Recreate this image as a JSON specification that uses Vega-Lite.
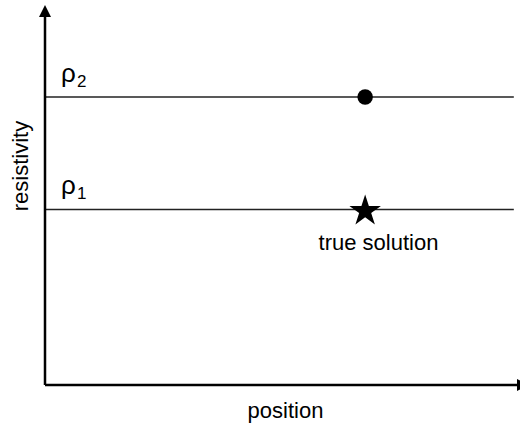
{
  "$schema": "https://vega.github.io/schema/vega-lite/v6.json",
  "width": 475,
  "height": 385,
  "autosize": {"type": "none"},
  "padding": {"left": 45, "top": 0, "right": 0, "bottom": 39},
  "background": "white",
  "config": {
    "view": {"stroke": null},
    "font": "Liberation Sans",
    "axis": {"domain": false, "ticks": false, "labels": false, "grid": false,
      "titleFont": "Liberation Sans", "titleFontSize": 22, "titleFontWeight": "normal", "titleColor": "black",
      "titleBaseline": "alphabetic", "titleAlign": "center"}
  },
  "layer": [
    {
      "data": {"values": [
        {"level": "rho2", "px": 0, "px2": 98.7, "py": 74.8},
        {"level": "rho1", "px": 0, "px2": 98.7, "py": 45.6}
      ]},
      "mark": {"type": "rule", "color": "#222222", "strokeWidth": 1.4},
      "encoding": {
        "x": {"field": "px", "type": "quantitative", "scale": {"domain": [0, 100], "nice": false, "zero": false},
          "axis": {"title": "position", "titleX": 240, "titleY": 32}},
        "x2": {"field": "px2"},
        "y": {"field": "py", "type": "quantitative", "scale": {"domain": [0, 100], "nice": false, "zero": false},
          "axis": {"title": "resistivity", "titleAngle": 270, "titleX": -18, "titleY": 165.5}}
      }
    },
    {
      "data": {"values": [
        {"axisline": "vertical", "px": 0, "py": 0, "px2": 0, "py2": 97},
        {"axisline": "horizontal", "px": 0, "py": 0, "px2": 99.5, "py2": 0}
      ]},
      "mark": {"type": "rule", "color": "black", "strokeWidth": 2.5},
      "encoding": {
        "x": {"field": "px", "type": "quantitative", "scale": {"domain": [0, 100]}},
        "x2": {"field": "px2"},
        "y": {"field": "py", "type": "quantitative", "scale": {"domain": [0, 100]}},
        "y2": {"field": "py2"}
      }
    },
    {
      "data": {"values": [{"arrow": "up", "px": 0, "py": 97.14}]},
      "mark": {"type": "point", "shape": "M0,-1 L1,1 L-1,1 Z", "size": 144, "filled": true, "color": "black", "opacity": 1},
      "encoding": {
        "x": {"field": "px", "type": "quantitative", "scale": {"domain": [0, 100]}},
        "y": {"field": "py", "type": "quantitative", "scale": {"domain": [0, 100]}}
      }
    },
    {
      "data": {"values": [{"arrow": "right", "px": 100.63, "py": 0}]},
      "mark": {"type": "point", "shape": "M1,0 L-1,-1 L-1,1 Z", "size": 144, "filled": true, "color": "black", "opacity": 1},
      "encoding": {
        "x": {"field": "px", "type": "quantitative", "scale": {"domain": [0, 100]}},
        "y": {"field": "py", "type": "quantitative", "scale": {"domain": [0, 100]}}
      }
    },
    {
      "data": {"values": [{"marker": "estimate", "px": 67.4, "py": 74.8}]},
      "mark": {"type": "point", "shape": "circle", "size": 240, "filled": true, "color": "black", "opacity": 1},
      "encoding": {
        "x": {"field": "px", "type": "quantitative", "scale": {"domain": [0, 100]}},
        "y": {"field": "py", "type": "quantitative", "scale": {"domain": [0, 100]}}
      }
    },
    {
      "data": {"values": [{"marker": "true solution", "px": 67.4, "py": 45.6}]},
      "mark": {"type": "point", "shape": "M0,-0.9045 L0.2245,-0.2135 L0.951,-0.2135 L0.363,0.2135 L0.588,0.9045 L0,0.4775 L-0.588,0.9045 L-0.363,0.2135 L-0.951,-0.2135 L-0.2245,-0.2135 Z", "size": 1100, "filled": true, "color": "black", "opacity": 1},
      "encoding": {
        "x": {"field": "px", "type": "quantitative", "scale": {"domain": [0, 100]}},
        "y": {"field": "py", "type": "quantitative", "scale": {"domain": [0, 100]}}
      }
    },
    {
      "data": {"values": [
        {"label": "ρ", "px": 3.37, "py": 78.7},
        {"label": "ρ", "px": 3.37, "py": 49.6}
      ]},
      "mark": {"type": "text", "font": "Liberation Sans", "fontSize": 26, "align": "left", "baseline": "alphabetic", "color": "black"},
      "encoding": {
        "x": {"field": "px", "type": "quantitative", "scale": {"domain": [0, 100]}},
        "y": {"field": "py", "type": "quantitative", "scale": {"domain": [0, 100]}},
        "text": {"field": "label"}
      }
    },
    {
      "data": {"values": [
        {"label": "2", "px": 6.74, "py": 77.4},
        {"label": "1", "px": 6.74, "py": 48.3}
      ]},
      "mark": {"type": "text", "font": "Liberation Sans", "fontSize": 17, "align": "left", "baseline": "alphabetic", "color": "black"},
      "encoding": {
        "x": {"field": "px", "type": "quantitative", "scale": {"domain": [0, 100]}},
        "y": {"field": "py", "type": "quantitative", "scale": {"domain": [0, 100]}},
        "text": {"field": "label"}
      }
    },
    {
      "data": {"values": [{"label": "true solution", "px": 70.2, "py": 35.1}]},
      "mark": {"type": "text", "font": "Liberation Sans", "fontSize": 22, "align": "center", "baseline": "alphabetic", "color": "black"},
      "encoding": {
        "x": {"field": "px", "type": "quantitative", "scale": {"domain": [0, 100]}},
        "y": {"field": "py", "type": "quantitative", "scale": {"domain": [0, 100]}},
        "text": {"field": "label"}
      }
    }
  ]
}
